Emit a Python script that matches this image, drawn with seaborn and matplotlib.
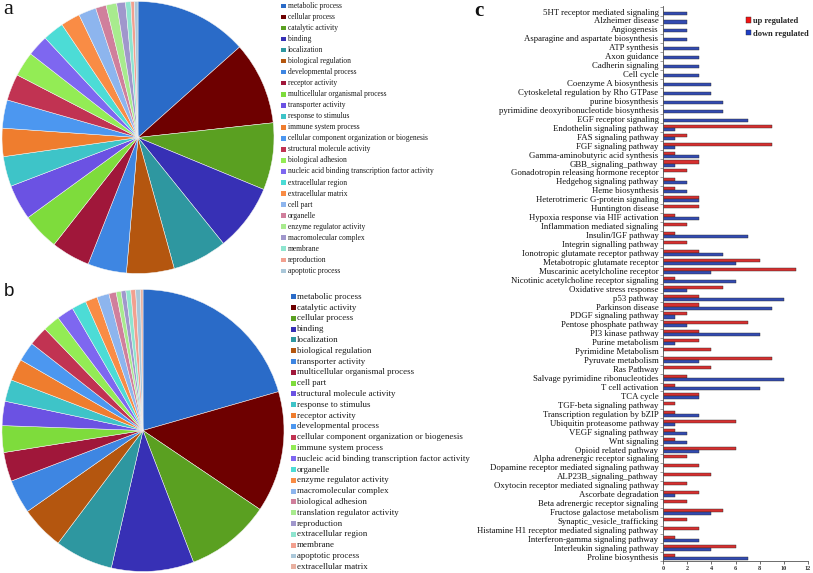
import numpy as np
import pandas as pd
import matplotlib
matplotlib.use("Agg")
import matplotlib.pyplot as plt
from matplotlib.patches import Rectangle
import seaborn as sns

# ---------------- data ----------------
pie_a_labels = ["metabolic process", "cellular process", "catalytic activity", "binding",
                "localization", "biological regulation", "developmental process",
                "receptor activity", "multicellular organismal process", "transporter activity",
                "response to stimulus", "immune system process",
                "cellular component organization or biogenesis", "structural molecule activity",
                "biological adhesion", "nucleic acid binding transcription factor activity",
                "extracellular region", "extracellular matrix", "cell part", "organelle",
                "enzyme regulator activity", "macromolecular complex", "membrane",
                "reproduction", "apoptotic process"]
pie_a_counts = [64, 47, 38, 38, 31, 27, 22, 22, 21, 20, 17, 16, 16, 15, 14, 12, 12, 11, 10,
                6, 6, 5, 3, 2, 2]

pie_b_labels = ["metabolic process", "catalytic activity", "cellular process", "binding",
                "localization", "biological regulation", "transporter activity",
                "multicellular organismal process", "cell part", "structural molecule activity",
                "response to stimulus", "receptor activity", "developmental process",
                "cellular component organization or biogenesis", "immune system process",
                "nucleic acid binding transcription factor activity", "organelle",
                "enzyme regulator activity", "macromolecular complex", "biological adhesion",
                "translation regulator activity", "reproduction", "extracellular region",
                "membrane", "apoptotic process", "extracellular matrix"]
pie_b_counts = [74, 50, 35, 34, 24, 18, 14, 12, 11, 10, 9, 9, 8, 8, 7, 7, 6, 5, 5, 3, 2, 2,
                2, 2, 2, 1]

pathways = ["5HT receptor mediated signaling", "Alzheimer disease", "Angiogenesis",
            "Asparagine and aspartate biosynthesis", "ATP synthesis", "Axon guidance",
            "Cadherin signaling", "Cell cycle", "Coenzyme A biosynthesis",
            "Cytoskeletal regulation by Rho GTPase", "purine biosynthesis",
            "pyrimidine deoxyribonucleotide biosynthesis", "EGF receptor signaling",
            "Endothelin signaling pathway", "FAS signaling pathway", "FGF signaling pathway",
            "Gamma-aminobutyric acid synthesis", "GBB_signaling_pathway",
            "Gonadotropin releasing hormone receptor", "Hedgehog signaling pathway",
            "Heme biosynthesis", "Heterotrimeric G-protein signaling", "Huntington disease",
            "Hypoxia response via HIF activation", "Inflammation mediated signaling",
            "Insulin/IGF pathway", "Integrin signalling pathway",
            "Ionotropic glutamate receptor pathway", "Metabotropic glutamate receptor",
            "Muscarinic acetylcholine receptor", "Nicotinic acetylcholine receptor signaling",
            "Oxidative stress response", "p53 pathway", "Parkinson disease",
            "PDGF signaling pathway", "Pentose phosphate pathway", "PI3 kinase pathway",
            "Purine metabolism", "Pyrimidine Metabolism", "Pyruvate metabolism", "Ras Pathway",
            "Salvage pyrimidine ribonucleotides", "T cell activation", "TCA cycle",
            "TGF-beta signaling pathway", "Transcription regulation by bZIP",
            "Ubiquitin proteasome pathway", "VEGF signaling pathway", "Wnt signaling",
            "Opioid related pathway", "Alpha adrenergic receptor signaling",
            "Dopamine receptor mediated signaling pathway", "ALP23B_signaling_pathway",
            "Oxytocin receptor mediated signaling pathway", "Ascorbate degradation",
            "Beta adrenergic receptor signaling", "Fructose galactose metabolism",
            "Synaptic_vesicle_trafficking", "Histamine H1 receptor mediated signaling pathway",
            "Interferon-gamma signaling pathway", "Interleukin signaling pathway",
            "Proline biosynthesis"]
up_counts = [0, 0, 0, 0, 0, 0, 0, 0, 0, 0, 0, 0, 0,
             9, 2, 9, 1, 3, 2, 1, 1, 3, 3, 1, 2, 1, 2, 3, 8, 11, 1,
             5, 3, 3, 2, 7, 3, 3, 4, 9, 4, 2, 1, 3, 1, 1, 6,
             1, 1, 6, 2, 3, 4, 2, 3, 2, 5, 2, 3, 1, 6, 1]
down_counts = [2, 2, 2, 2, 3, 3, 3, 3, 4, 4, 5, 5, 7,
               1, 1, 1, 3, 1, 0, 2, 2, 3, 0, 3, 0, 7, 0, 5, 6, 4, 6,
               2, 10, 9, 1, 2, 8, 1, 0, 3, 0, 10, 8, 3, 0, 3, 1,
               2, 2, 3, 0, 0, 0, 0, 1, 0, 4, 0, 0, 3, 4, 7]
reg_levels = ["up regulated", "down regulated"]
x_ticks = [0, 2, 4, 6, 8, 10, 12]

palette = ["#2A6BC8", "#6E0000", "#5AA021", "#3730B5", "#2E97A0", "#B4560F", "#3E86E2",
           "#A0173A", "#7EDC3C", "#6B52E3", "#3EC4C8", "#EF7D2E", "#4C97F0", "#C13352",
           "#93EC55", "#7E67F0", "#4CDCD6", "#F98C45", "#8DB5EE", "#D07F9C", "#A8EB8E",
           "#A097CC", "#8EE5CF", "#F2A08F", "#AAC7D9", "#E8B0A0"]
bar_colors = {"up regulated": "#F21414", "down regulated": "#1E3EC6"}

# ---------------- figure ----------------
sns.set_theme(style="white")
plt.rcParams["font.family"] = ["Liberation Serif", "DejaVu Sans"]

W, H = 813, 573
fig = plt.figure(figsize=(W / 100, H / 100), dpi=100)
fig.patch.set_facecolor("white")


def box(x0, y0, x1, y1):
    return [x0 / W, 1 - y1 / H, (x1 - x0) / W, (y1 - y0) / H]


def draw_pie(ax, counts):
    ax.pie(counts, colors=palette[:len(counts)], startangle=90, counterclock=False,
           radius=1, wedgeprops=dict(linewidth=0.35, edgecolor="#f4f4f4"))
    ax.set_xlim(-1, 1)
    ax.set_ylim(-1, 1)
    ax.set_aspect("equal")
    ax.axis("off")


ax_a = fig.add_axes(box(2, 1.5, 274, 273.5))
draw_pie(ax_a, pie_a_counts)
ax_b = fig.add_axes(box(2, 289.5, 284, 571.5))
draw_pie(ax_b, pie_b_counts)


def draw_legend(labels, y0, dy, xsq, sq, xt, fs):
    for i, lab in enumerate(labels):
        y = y0 + i * dy
        fig.patches.append(Rectangle((xsq / W, 1 - (y + sq / 2) / H), sq / W, sq / H,
                                     transform=fig.transFigure, facecolor=palette[i],
                                     edgecolor="none"))
        fig.text(xt / W, 1 - y / H, lab, fontsize=fs, va="center", ha="left",
                 color="#1a1a1a")


draw_legend(pie_a_labels, 5.9, 11.04, 281.0, 4.6, 287.5, 5.45)
draw_legend(pie_b_labels, 296.7, 10.8, 290.8, 4.8, 297.0, 6.4)

# panel letters
fig.text(3 / W, 1 - 0.5 / H, "a", fontsize=16, va="top", ha="left", color="#111111")
fig.text(4 / W, 1 - 296 / H, "b", fontsize=13.5, va="baseline", ha="left",
         family=["Liberation Sans", "DejaVu Sans"], color="#111111")
fig.text(474 / W, 1 - 0.5 / H, "c", fontsize=15, fontweight="bold", va="top",
         ha="left", color="#111111")

# ---------------- bar chart ----------------
df = pd.DataFrame({
    "pathway": pathways * 2,
    "count": up_counts + down_counts,
    "reg": [reg_levels[0]] * len(pathways) + [reg_levels[1]] * len(pathways),
})
ax_c = fig.add_axes(box(663.3, 6, 807.7, 561.3))
sns.barplot(data=df, y="pathway", x="count", hue="reg", order=pathways,
            hue_order=reg_levels, palette=bar_colors, orient="h", width=0.68,
            edgecolor="#2a2a2a", linewidth=0.3, ax=ax_c, legend=False)
ax_c.set_xlim(0, 12)
ax_c.set_ylim(len(pathways) - 0.55, -0.62)
ax_c.set_xlabel("")
ax_c.set_ylabel("")
ax_c.set_xticks(x_ticks)
ax_c.set_xticklabels([str(t) for t in x_ticks], fontsize=4.5, fontweight="bold")
ax_c.tick_params(axis="x", length=2, width=0.5, pad=1.5, colors="#333333", direction="out",
                 bottom=True)
ax_c.tick_params(axis="y", length=0, pad=3.5, labelsize=6.3, labelcolor="#111111")
ax_c.set_yticks(np.arange(len(pathways) + 1) - 0.5, minor=True)
ax_c.tick_params(axis="y", which="minor", length=2, width=0.4, color="#555555", left=True)
for s in ["top", "right"]:
    ax_c.spines[s].set_visible(False)
for s in ["left", "bottom"]:
    ax_c.spines[s].set_color("#555555")
    ax_c.spines[s].set_linewidth(0.6)
ax_c.grid(False)

handles = [Rectangle((0, 0), 1, 1, facecolor=bar_colors[r], edgecolor="#2a2a2a",
                     linewidth=0.3) for r in reg_levels]
fig.legend(handles, reg_levels, loc="upper left", bbox_to_anchor=(746 / W, 1 - 17 / H),
           frameon=False, prop=dict(size=6, weight="bold"), handlelength=0.55,
           handleheight=0.6, handletextpad=0.25, labelspacing=0.55, borderpad=0,
           borderaxespad=0)

fig.savefig("out.png", dpi=100, facecolor="white")
